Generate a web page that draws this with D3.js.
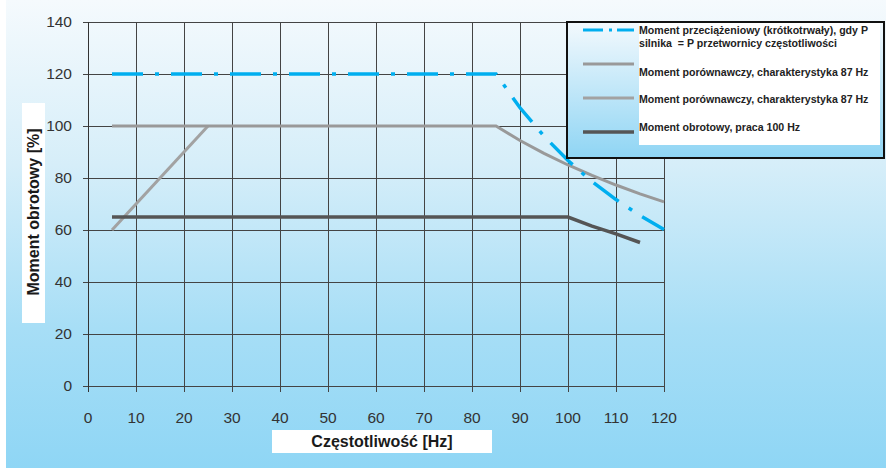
<!DOCTYPE html>
<html>
<head>
<meta charset="utf-8">
<script src="https://cdn.jsdelivr.net/npm/d3@7"></script>
<style>
  html, body { margin: 0; padding: 0; background: #ffffff; }
  svg { display: block; }
  text { font-family: "Liberation Sans", Arial, sans-serif; }
</style>
</head>
<body>
<svg id="chart" width="886" height="470"></svg>
<script>
// ---- data ----
const xTicks = [0, 10, 20, 30, 40, 50, 60, 70, 80, 90, 100, 110, 120];
const yTicks = [0, 20, 40, 60, 80, 100, 120, 140];

const overloadFreq = [5, 85, 90, 95, 100, 105, 110, 115, 120];
const overloadVal  = [120, 120, 107, 96.1, 86.7, 78.6, 71.7, 65.6, 60.2];

const compAFreq = [5, 85, 90, 95, 100, 105, 110, 115, 120];
const compAVal  = [100, 100, 94.4, 89.5, 85, 81, 77.3, 73.9, 70.8];

const compBFreq = [5, 25];
const compBVal  = [60, 100];

const torqueFreq = [5, 100, 105, 110, 115];
const torqueVal  = [65, 65, 61.5, 58.5, 55.2];

const legendLabels = [
  ["Moment przeciążeniowy (krótkotrwały), gdy P", "silnika  = P przetwornicy częstotliwości"],
  ["Moment porównawczy, charakterystyka 87 Hz"],
  ["Moment porównawczy, charakterystyka 87 Hz"],
  ["Moment obrotowy, praca 100 Hz"]
];
const xTitle = "Częstotliwość [Hz]";
const yTitle = "Moment obrotowy [%]";

// ---- setup ----
const svg = d3.select("#chart");
const defs = svg.append("defs");

const bg = defs.append("linearGradient").attr("id", "bg").attr("x1", 0).attr("y1", 0).attr("x2", 0).attr("y2", 1);
bg.append("stop").attr("offset", "0%").attr("stop-color", "#f5fafd");
bg.append("stop").attr("offset", "35%").attr("stop-color", "#d6eef9");
bg.append("stop").attr("offset", "70%").attr("stop-color", "#a7def6");
bg.append("stop").attr("offset", "100%").attr("stop-color", "#8fd6f5");

const lg = defs.append("linearGradient").attr("id", "lg").attr("x1", 0).attr("y1", 0).attr("x2", 0).attr("y2", 1);
lg.append("stop").attr("offset", "0%").attr("stop-color", "#f3f9fd");
lg.append("stop").attr("offset", "100%").attr("stop-color", "#8fd5f4");

svg.append("rect").attr("x", 6).attr("y", 0).attr("width", 880).attr("height", 468).attr("fill", "url(#bg)");

const x = d3.scaleLinear().domain([0, 120]).range([88, 664]);
const y = d3.scaleLinear().domain([0, 140]).range([386, 22]);

// gridlines
const grid = svg.append("g");
grid.selectAll("line.h").data(yTicks).join("line")
  .attr("x1", 83).attr("x2", x(120))
  .attr("y1", d => y(d) + 0.5).attr("y2", d => y(d) + 0.5)
  .attr("stroke", "#444").attr("stroke-width", 1);
grid.selectAll("line.v").data(xTicks).join("line")
  .attr("x1", d => x(d) + 0.5).attr("x2", d => x(d) + 0.5)
  .attr("y1", y(140)).attr("y2", 392)
  .attr("stroke", d => d === 0 ? "#333" : "#444").attr("stroke-width", 1);

// tick labels
svg.append("g").selectAll("text").data(yTicks).join("text")
  .attr("x", 72).attr("y", d => y(d)).attr("dy", "0.35em")
  .attr("text-anchor", "end").attr("font-size", 15.5).attr("fill", "#333")
  .text(d => d);
svg.append("g").selectAll("text").data(xTicks).join("text")
  .attr("x", d => x(d)).attr("y", 423)
  .attr("text-anchor", "middle").attr("font-size", 15.5).attr("fill", "#333")
  .text(d => d);

// axis titles
svg.append("rect").attr("x", 22).attr("y", 103).attr("width", 23).attr("height", 220).attr("fill", "#fff");
svg.append("text").attr("transform", "translate(39,212) rotate(-90)")
  .attr("text-anchor", "middle").attr("font-size", 16).attr("font-weight", "bold").attr("fill", "#1a1a1a")
  .text(yTitle);
svg.append("rect").attr("x", 272).attr("y", 430).attr("width", 220).attr("height", 23).attr("fill", "#fff");
svg.append("text").attr("x", 382).attr("y", 447)
  .attr("text-anchor", "middle").attr("font-size", 16).attr("font-weight", "bold").attr("fill", "#1a1a1a")
  .text(xTitle);

// series
const line = d3.line().x(d => x(d[0])).y(d => y(d[1]));
const zip = (a, b) => a.map((v, i) => [v, b[i]]);

svg.append("path").datum(zip(compBFreq, compBVal)).attr("d", line)
  .attr("fill", "none").attr("stroke", "#a2a2a2").attr("stroke-width", 3);
svg.append("path").datum(zip(compAFreq, compAVal)).attr("d", line)
  .attr("fill", "none").attr("stroke", "#999999").attr("stroke-width", 3);
svg.append("path").datum(zip(torqueFreq, torqueVal)).attr("d", line)
  .attr("fill", "none").attr("stroke", "#555555").attr("stroke-width", 3.5);
svg.append("path").datum(zip(overloadFreq, overloadVal)).attr("d", line)
  .attr("fill", "none").attr("stroke", "#00aeef").attr("stroke-width", 3.5)
  .attr("stroke-dasharray", "31,12,4,12");

// legend
const L = svg.append("g");
L.append("rect").attr("x", 567).attr("y", 22).attr("width", 317).attr("height", 136)
  .attr("fill", "url(#lg)").attr("stroke", "#111").attr("stroke-width", 2);
L.append("rect").attr("x", 639).attr("y", 23).attr("width", 241).attr("height", 122).attr("fill", "#fff");

const legendStyles = [
  { color: "#00aeef", width: 3, dash: "20,6,3,5,20", y: 30 },
  { color: "#999999", width: 3, dash: null, y: 64 },
  { color: "#a2a2a2", width: 3, dash: null, y: 98 },
  { color: "#555555", width: 3.5, dash: null, y: 132 }
];
const textYs = [[34, 47], [76], [103], [131]];
legendLabels.forEach((lines, i) => {
  const s = legendStyles[i];
  L.append("line").attr("x1", 583).attr("x2", 634).attr("y1", s.y).attr("y2", s.y)
    .attr("stroke", s.color).attr("stroke-width", s.width)
    .attr("stroke-dasharray", s.dash);
  lines.forEach((t, j) => {
    L.append("text").attr("x", 639).attr("y", textYs[i][j])
      .attr("font-size", 10.6).attr("font-weight", "bold").attr("fill", "#222")
      .style("white-space", "pre").attr("xml:space", "preserve")
      .text(t);
  });
});
</script>
</body>
</html>
